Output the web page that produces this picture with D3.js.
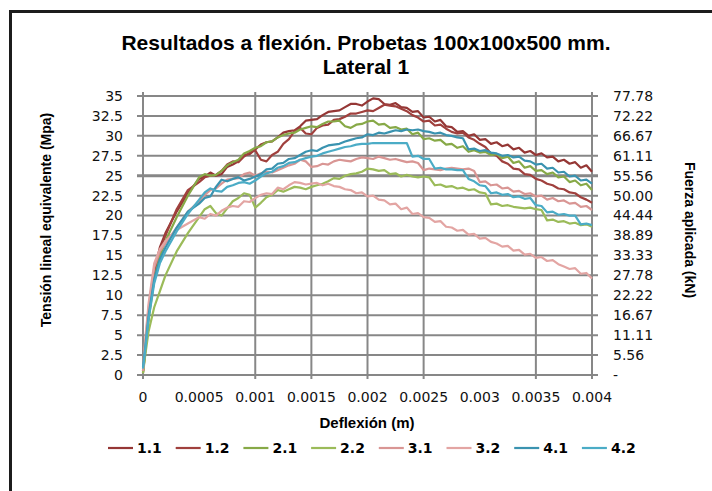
<!DOCTYPE html>
<html>
<head>
<meta charset="utf-8">
<script src="https://cdn.jsdelivr.net/npm/d3@7"></script>
<style>
    body { margin: 0; background: #fff; }
    svg { display: block; }
</style>
</head>
<body>
<div id="chart"></div>
<script>
// deflexion (m), shared by every test piece
const deflexion = [0, 0.00002, 0.00005, 0.0001, 0.00015, 0.0002, 0.0003, 0.0004,
    0.0005, 0.00055, 0.0006, 0.00065, 0.0007, 0.00075, 0.0008, 0.00085, 0.0009, 0.00095,
    0.001, 0.00105, 0.0011, 0.00115, 0.0012, 0.00125, 0.0013, 0.00135, 0.0014, 0.00145,
    0.0015, 0.00155, 0.0016, 0.00165, 0.0017, 0.00175, 0.0018, 0.00185, 0.0019, 0.00195,
    0.002, 0.00205, 0.0021, 0.00215, 0.0022, 0.00225, 0.0023, 0.00235, 0.0024, 0.00245,
    0.0025, 0.00255, 0.0026, 0.00265, 0.0027, 0.00275, 0.0028, 0.00285, 0.0029, 0.00295,
    0.003, 0.00305, 0.0031, 0.00315, 0.0032, 0.00325, 0.0033, 0.00335, 0.0034, 0.00345,
    0.0035, 0.00355, 0.0036, 0.00365, 0.0037, 0.00375, 0.0038, 0.00385, 0.0039, 0.00395,
    0.004]

// tension lineal equivalente (MPa)
const p11 = [0.3, 3, 7.5, 13, 16, 17.8, 20.5, 22.8,
    24.6, 24.9, 25.4, 25.0, 25.2, 26.1, 26.4, 26.8, 27.6, 27.7,
    28.3, 28.9, 29.2, 29.3, 29.8, 30.4, 30.6, 30.7, 31.2, 31.9,
    32.0, 32.1, 32.6, 33.0, 33.1, 33.2, 33.6, 34.0, 34.0, 33.8,
    34.3, 34.7, 34.6, 34.0, 33.9, 34.1, 33.6, 33.5, 33.0, 33.1,
    32.3, 32.4, 31.8, 32.0, 31.2, 31.1, 30.5, 30.6, 30.0, 30.2,
    29.5, 29.6, 29.0, 29.2, 28.7, 28.9, 28.3, 28.5, 27.9, 28.1,
    27.6, 27.8, 27.3, 27.4, 26.8, 27.0, 26.5, 26.7, 26.0, 26.3,
    25.5]
const p12 = [0.5, 3.5, 8, 12.5, 15.5, 17.5, 20.8, 23.2,
    24.2, 24.8, 25.0, 25.1, 25.6, 26.4, 26.8, 26.7, 27.4, 27.9,
    28.2, 27.0, 26.8, 27.6, 28.0, 29.0, 29.6, 30.6, 31.0, 30.3,
    30.2, 31.0, 31.3, 31.4, 32.0, 32.1, 32.4, 32.8, 32.8, 33.0,
    33.2, 33.1, 33.5, 33.9, 33.8, 33.7, 33.4, 33.1, 32.6, 32.3,
    31.8, 31.9, 31.3, 31.4, 30.9, 30.5, 30.3, 30.4, 29.8, 29.5,
    29.0, 28.6, 27.8, 27.5, 26.8, 26.5, 25.9, 25.8, 25.2, 25.1,
    24.6, 24.4, 24.0, 23.8, 23.4, 23.3, 22.9, 22.8, 22.3, 22.0,
    21.6]
const p21 = [0.3, 3, 7, 12, 14.8, 16.8, 19.8, 22.5,
    24.8, 25.2, 25.0, 25.1, 25.6, 26.3, 26.7, 27.0, 27.8, 28.1,
    28.5, 28.7, 29.2, 29.3, 29.8, 30.1, 30.3, 30.4, 30.8, 31.0,
    31.2, 31.1, 31.5, 31.8, 31.8, 31.9, 31.2, 31.0, 31.4, 31.5,
    31.8, 31.9, 31.4, 31.5, 31.0, 31.1, 30.8, 30.9, 30.2, 30.4,
    29.6, 29.7, 29.4, 29.5, 28.9, 29.0, 28.5, 28.7, 28.0, 28.2,
    27.9, 28.0, 27.6, 27.7, 27.2, 27.4, 26.6, 26.8, 26.0, 26.2,
    25.6, 25.7, 25.2, 25.4, 24.8, 24.9, 24.2, 24.4, 23.8, 24.0,
    23.2]
const p22 = [0.2, 2.5, 5.5, 8.5, 10.5, 12.5, 15.5, 17.8,
    19.8, 20.8, 21.2, 20.3, 20.0, 20.9, 21.8, 22.2, 22.8, 22.6,
    21.0, 21.6, 22.3, 22.6, 23.2, 23.0, 23.3, 23.6, 23.5, 23.3,
    23.6, 23.8, 24.0, 24.3, 24.7, 24.6, 25.0, 25.2, 25.3, 25.5,
    25.9, 25.8, 25.6, 25.7, 25.2, 25.3, 24.9, 25.1, 24.9, 24.8,
    24.9, 24.8, 23.8, 23.9, 23.6, 23.7, 23.4, 23.5, 23.2, 23.3,
    22.9, 22.8, 21.4, 21.5, 21.2, 21.3, 21.1, 21.0, 20.9, 21.0,
    20.8, 20.7, 19.4, 19.5, 19.2, 19.3, 19.0, 19.1, 18.8, 18.9,
    18.6]
const p31 = [0.5, 4, 8.5, 13.5, 15.5, 16.5, 18.5, 20.5,
    21.8, 22.6, 23.2, 23.4, 24.0, 24.5, 24.6, 24.7, 25.2, 25.4,
    25.0, 25.3, 25.5, 25.4, 25.7, 26.0, 26.3, 26.5, 27.0, 26.8,
    26.1, 26.2, 26.5, 26.4, 26.8, 27.0, 26.9, 26.8, 27.1, 27.3,
    27.2, 27.1, 27.4, 27.2, 27.0, 27.1, 26.9, 26.7, 26.8, 26.6,
    25.7, 25.9, 25.8, 25.7, 25.9, 26.0, 25.9, 25.8, 25.9, 25.6,
    24.2, 24.3, 23.8, 23.9, 23.4, 23.5, 23.0, 23.1, 22.7, 22.8,
    22.4, 22.5, 22.0, 22.2, 21.8, 21.9, 21.5, 21.6, 21.1, 21.2,
    20.7]
const p32 = [0.8, 4.5, 9, 14, 15.8, 16.8, 18.2, 19.0,
    19.8, 19.6, 20.2, 20.0, 20.6, 21.0, 21.2, 21.1, 21.8, 21.7,
    22.2, 22.6, 22.8, 22.7, 23.5, 23.3, 23.8, 24.2, 24.1, 23.9,
    24.0, 24.1, 23.8, 24.0, 23.7, 23.6, 23.3, 23.2, 22.8, 22.9,
    22.4, 22.5, 22.0, 21.9, 21.4, 21.5, 20.8, 21.0, 20.2, 20.3,
    19.8, 19.7, 19.2, 19.3, 18.6, 18.5, 18.1, 18.2, 17.6, 17.7,
    17.1, 17.2, 16.7, 16.5, 16.1, 16.2, 15.6, 15.7, 15.1, 15.2,
    14.7, 14.8, 14.3, 14.4, 13.9, 13.6, 13.3, 13.4, 12.7, 12.8,
    12.1]
const p41 = [1, 3.5, 7.5, 12, 14.5, 16.0, 18.5, 20.5,
    21.5, 22.2, 22.4, 23.6, 24.5, 24.3, 24.6, 24.8, 24.4, 24.6,
    24.9, 25.2, 25.8, 25.9, 26.5, 26.6, 27.1, 27.2, 27.6, 28.0,
    28.2, 28.1, 28.5, 28.8, 28.9, 29.0, 29.3, 29.5, 29.7, 29.8,
    30.2, 30.1, 30.4, 30.3, 30.5, 30.7, 30.6, 30.8, 30.7, 30.8,
    30.6, 30.5, 30.3, 30.4, 30.1, 30.0, 29.8, 29.7, 28.3, 28.4,
    28.1, 28.2, 27.9, 27.8, 27.5, 27.6, 27.3, 27.4, 26.9, 26.8,
    26.4, 26.5, 25.9, 26.0, 25.4, 25.5, 24.9, 25.0, 24.4, 24.5,
    24.0]
const p42 = [0.8, 3.2, 7, 11.5, 14, 15.5, 18.0, 20.2,
    22.0, 22.9, 23.4, 23.1, 23.0, 23.6, 23.8, 24.1, 24.2, 24.0,
    24.4, 24.9, 25.3, 25.5, 26.0, 26.2, 26.6, 26.7, 27.0, 27.2,
    27.4, 27.5, 27.8, 28.0, 28.2, 28.4, 28.6, 28.7, 28.9, 29.0,
    29.0, 29.1, 29.1, 29.1, 29.1, 29.1, 29.1, 29.1, 27.4, 27.5,
    27.1, 27.1, 25.9, 26.0, 25.8, 25.8, 25.7, 25.7, 24.6, 24.3,
    23.8, 23.7, 22.8, 22.9, 22.6, 22.7, 22.3, 22.4, 22.1, 22.2,
    21.3, 21.2, 20.4, 20.5, 20.1, 20.2, 20.0, 20.0, 18.9, 19.0,
    18.8]

const seriesNames = ['1.1', '1.2', '2.1', '2.2', '3.1', '3.2', '4.1', '4.2']
const seriesValues = [p11, p12, p21, p22, p31, p32, p41, p42]
const seriesColors = ['#953735', '#a0403d', '#87a947', '#9bbb59', '#d99694', '#e3a5a3', '#3a93b0', '#4bacc6']

const xTicks = [0, 0.0005, 0.001, 0.0015, 0.002, 0.0025, 0.003, 0.0035, 0.004]
const xTickLabels = ['0', '0.0005', '0.001', '0.0015', '0.002', '0.0025', '0.003', '0.0035', '0.004']
// vertical gridlines visible in the picture
const xGrid = [0.001, 0.0015, 0.002, 0.0025, 0.0035, 0.004]
const yTicks = [0, 2.5, 5, 7.5, 10, 12.5, 15, 17.5, 20, 22.5, 25, 27.5, 30, 32.5, 35]
const yTickLabels = ['0', '2.5', '5', '7.5', '10', '12.5', '15', '17.5', '20', '22.5', '25', '27.5', '30', '32.5', '35']
const kNTickLabels = ['-', '5.56', '11.11', '16.67', '22.22', '27.78', '33.33', '38.89', '44.44', '50.00', '55.56', '61.11', '66.67', '72.22', '77.78']

const width = 712, height = 491
const plot = {left: 143, right: 592, top: 96, bottom: 375}
const tickFont = '"DejaVu Sans", sans-serif'
const boldFont = '"Liberation Sans", Arial, sans-serif'

const svg = d3.select('#chart').append('svg')
    .attr('width', width)
    .attr('height', height)

// chart frame
svg.append('rect')
    .attr('x', 10.5).attr('y', 11.5)
    .attr('width', width + 20).attr('height', height + 20)
    .attr('fill', 'none')
    .attr('stroke', '#1c1c1c')
    .attr('stroke-width', 3)

const x = d3.scaleLinear().domain([0, 0.004]).range([plot.left, plot.right])
const y = d3.scaleLinear().domain([0, 35]).range([plot.bottom, plot.top])

const grid = svg.append('g').attr('stroke', '#878787')

grid.selectAll('line.h')
    .data(yTicks)
    .enter().append('line')
    .attr('class', 'h')
    .attr('x1', plot.left - 6).attr('x2', plot.right + 6)
    .attr('y1', d => y(d)).attr('y2', d => y(d))
    .attr('stroke-width', d => d === 25 ? 3 : 2)

grid.selectAll('line.v')
    .data([0].concat(xGrid))
    .enter().append('line')
    .attr('class', 'v')
    .attr('x1', d => x(d)).attr('x2', d => x(d))
    .attr('y1', plot.top - 4).attr('y2', plot.bottom + 4)
    .attr('stroke-width', 2)

// left axis labels
svg.append('g').selectAll('text')
    .data(yTicks)
    .enter().append('text')
    .attr('x', 123)
    .attr('y', d => y(d))
    .attr('dy', '0.35em')
    .attr('text-anchor', 'end')
    .style('font-family', tickFont)
    .style('font-size', '14px')
    .style('fill', '#111')
    .text((d, i) => yTickLabels[i])

// right axis labels (kN)
svg.append('g').selectAll('text')
    .data(yTicks)
    .enter().append('text')
    .attr('x', 613)
    .attr('y', d => y(d))
    .attr('dy', '0.35em')
    .style('font-family', tickFont)
    .style('font-size', '14px')
    .style('fill', '#111')
    .text((d, i) => kNTickLabels[i])

// bottom axis labels
svg.append('g').selectAll('text')
    .data(xTicks)
    .enter().append('text')
    .attr('x', d => x(d))
    .attr('y', 397)
    .attr('dy', '0.35em')
    .attr('text-anchor', 'middle')
    .style('font-family', tickFont)
    .style('font-size', '14px')
    .style('fill', '#111')
    .text((d, i) => xTickLabels[i])

const line = d3.line()
    .x((d, i) => x(deflexion[i]))
    .y(d => y(d))

svg.append('g').selectAll('path')
    .data(seriesValues)
    .enter().append('path')
    .attr('d', line)
    .attr('fill', 'none')
    .attr('stroke', (d, i) => seriesColors[i])
    .attr('stroke-width', 2.2)
    .attr('stroke-linejoin', 'round')

// titles
const title = svg.append('text')
    .attr('text-anchor', 'middle')
    .style('font-family', boldFont)
    .style('font-weight', 'bold')
    .style('font-size', '21px')
    .style('fill', '#000')
title.append('tspan').attr('x', 366).attr('y', 50).text('Resultados a flexión. Probetas 100x100x500 mm.')
title.append('tspan').attr('x', 366).attr('y', 74).text('Lateral 1')

svg.append('text')
    .attr('x', 367)
    .attr('y', 423)
    .attr('dy', '0.35em')
    .attr('text-anchor', 'middle')
    .style('font-family', boldFont)
    .style('font-weight', 'bold')
    .style('font-size', '15px')
    .text('Deflexión (m)')

svg.append('text')
    .attr('transform', 'translate(46, 220) rotate(-90)')
    .attr('dy', '0.35em')
    .attr('text-anchor', 'middle')
    .style('font-family', boldFont)
    .style('font-weight', 'bold')
    .style('font-size', '14px')
    .text('Tensión lineal equivalente (Mpa)')

svg.append('text')
    .attr('transform', 'translate(690, 230) rotate(90)')
    .attr('dy', '0.35em')
    .attr('text-anchor', 'middle')
    .style('font-family', boldFont)
    .style('font-weight', 'bold')
    .style('font-size', '14px')
    .text('Fuerza aplicada (kN)')

// legend
const legend = svg.append('g').selectAll('g')
    .data(seriesNames)
    .enter().append('g')
    .attr('transform', (d, i) => `translate(${108 + i * 67.7}, 448)`)
legend.append('line')
    .attr('x1', 0).attr('x2', 25)
    .attr('stroke', (d, i) => seriesColors[i])
    .attr('stroke-width', 2.2)
legend.append('text')
    .attr('x', 29)
    .attr('dy', '0.35em')
    .style('font-family', tickFont)
    .style('font-weight', 'bold')
    .style('font-size', '14px')
    .text(d => d)
</script>
</body>
</html>
